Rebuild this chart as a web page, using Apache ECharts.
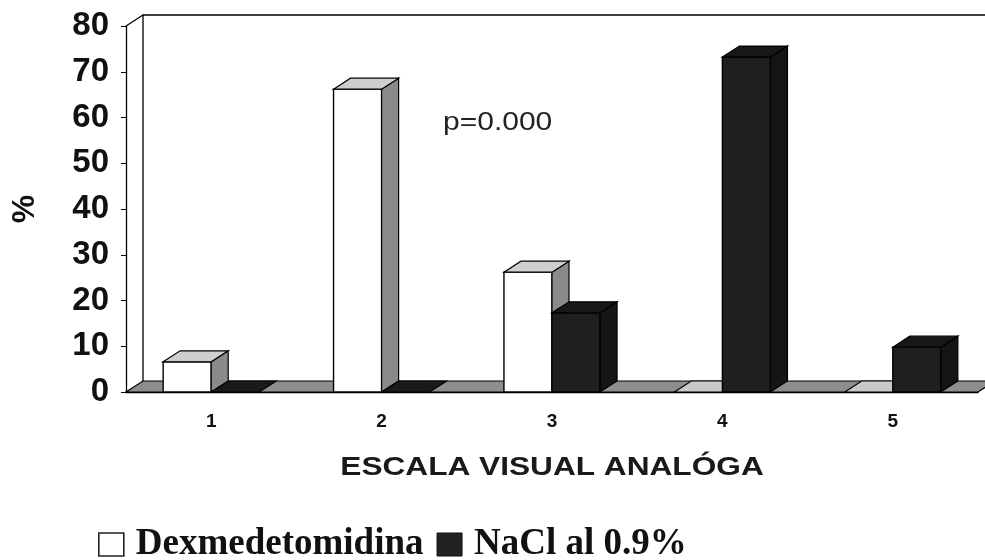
<!DOCTYPE html>
<html>
<head>
<meta charset="utf-8">
<script src="https://cdn.jsdelivr.net/npm/echarts@6/dist/echarts.min.js"></script>
<style>
  html, body { margin: 0; padding: 0; background: #fff; }
  #chart { width: 985px; height: 560px; }
</style>
</head>
<body>
<div id="chart"></div>
<script>
// Pain score distribution (visual analogue scale) per group, in percent
const categories = ['1', '2', '3', '4', '5'];
const dexValues = [6.6, 66.2, 26.2, 0, 0];
const naclValues = [0, 0, 17.3, 73.2, 9.8];
const seriesNames = ['Dexmedetomidina', 'NaCl al 0.9%'];
const yMin = 0, yMax = 80, yStep = 10;

// pseudo-3D depth of the plot box and bars
const DX = 17, DY = -11;
const BAR_RATIO = 0.282;

const chart = echarts.init(document.getElementById('chart'), null, { renderer: 'canvas' });

function poly(points, fill, lw) {
  return { type: 'polygon', shape: { points: points },
    style: { fill: fill, stroke: '#000', lineWidth: lw || 1 } };
}

// back wall, left edge and floor of the box
function renderFrame(params, api) {
  const band = api.size([1, 0])[0];
  const left = api.coord([0, yMin])[0] - band / 2;
  const right = api.coord([categories.length - 1, yMin])[0] + band / 2;
  const y0 = api.coord([0, yMin])[1];
  const yT = api.coord([0, yMax])[1];
  return {
    type: 'group',
    children: [
      { type: 'polyline', shape: { points: [[left + DX, y0 + DY], [left + DX, yT + DY], [right + DX + 40, yT + DY]] },
        style: { stroke: '#000', lineWidth: 1.3, fill: null } },
      { type: 'line', shape: { x1: left, y1: yT, x2: left + DX, y2: yT + DY },
        style: { stroke: '#000', lineWidth: 1.3 } },
      poly([[left, y0], [right, y0], [right + DX, y0 + DY], [left + DX, y0 + DY]], '#8e8e8e', 1.2)
    ]
  };
}

function barRenderer(slot, faces) {
  return function (params, api) {
    const idx = api.value(0);
    const val = api.value(1);
    const base = api.coord([idx, yMin]);
    const top = api.coord([idx, val]);
    const band = api.size([1, 0])[0];
    const w = band * BAR_RATIO;
    const x0 = base[0] + (slot === 0 ? -w : 0);
    const x1 = x0 + w;
    const yb = base[1], yt = top[1];
    const kids = [];
    if (yb - yt > 0.5) {
      kids.push({ type: 'rect', shape: { x: x0, y: yt, width: w, height: yb - yt },
        style: { fill: faces.front, stroke: '#000', lineWidth: 1.4 } });
      kids.push(poly([[x1, yt], [x1 + DX, yt + DY], [x1 + DX, yb + DY], [x1, yb]], faces.side, 1.2));
      kids.push(poly([[x0, yt], [x0 + DX, yt + DY], [x1 + DX, yt + DY], [x1, yt]], faces.top, 1.2));
    } else {
      kids.push(poly([[x0, yb], [x0 + DX, yb + DY], [x1 + DX, yb + DY], [x1, yb]], faces.zero, 1.2));
    }
    return { type: 'group', children: kids };
  };
}

const toData = arr => arr.map((v, i) => [i, v]);

const option = {
  backgroundColor: '#fff',
  animation: false,
  grid: { left: 126, right: 7, top: 26, bottom: 168 },
  xAxis: {
    type: 'category',
    data: categories,
    boundaryGap: true,
    axisLine: { lineStyle: { color: '#000', width: 1.3 } },
    axisTick: { lineStyle: { color: '#000' }, length: 6 },
    axisLabel: { color: '#111', fontFamily: 'Liberation Sans, Arial', fontWeight: 'bold', fontSize: 19, margin: 20 },
    splitLine: { show: false }
  },
  yAxis: {
    type: 'value',
    min: yMin, max: yMax, interval: yStep,
    name: '%',
    nameLocation: 'middle',
    nameRotate: 90,
    nameGap: 85,
    nameTextStyle: { color: '#111', fontFamily: 'Liberation Sans, Arial', fontSize: 32, fontWeight: 'bold' },
    axisLine: { show: true, lineStyle: { color: '#000', width: 1.3 } },
    axisTick: { show: true, lineStyle: { color: '#000' }, length: 5 },
    axisLabel: { color: '#111', fontFamily: 'Liberation Sans, Arial', fontWeight: 'bold', fontSize: 33, margin: 17 },
    splitLine: { show: false }
  },
  legend: {
    left: 98, top: 526, padding: 0,
    itemWidth: 25, itemHeight: 23, itemGap: 13,
    icon: 'rect',
    selectedMode: false,
    textStyle: { color: '#111', fontFamily: 'Liberation Serif, Times New Roman', fontWeight: 'bold', fontSize: 37, padding: [0, 0, 0, 7] },
    data: [
      { name: seriesNames[0], itemStyle: { color: '#fff', borderColor: '#222', borderWidth: 1.6 } },
      { name: seriesNames[1], itemStyle: { color: '#222', borderColor: '#111', borderWidth: 1 } }
    ]
  },
  graphic: [
    { type: 'text', x: 443, y: 123, scaleX: 1.2,
      style: { text: 'p=0.000', font: '25px "Liberation Sans", Arial', fill: '#222', textAlign: 'left', textVerticalAlign: 'middle' } },
    { type: 'text', x: 552, y: 468, scaleX: 1.265,
      style: { text: 'ESCALA VISUAL ANALÓGA', font: 'bold 25px "Liberation Sans", Arial', fill: '#1a1a1a', textAlign: 'center', textVerticalAlign: 'middle' } }
  ],
  series: [
    { type: 'custom', name: '_frame', z: 1, silent: true, renderItem: renderFrame, data: [[0, 0]] },
    { type: 'custom', name: seriesNames[0], z: 2,
      itemStyle: { color: '#fff', borderColor: '#222' },
      renderItem: barRenderer(0, { front: '#ffffff', top: '#cfcfcf', side: '#8a8a8a', zero: '#c9c9c9' }),
      data: toData(dexValues) },
    { type: 'custom', name: seriesNames[1], z: 3,
      itemStyle: { color: '#222' },
      renderItem: barRenderer(1, { front: '#1f1f1f', top: '#171717', side: '#151515', zero: '#1a1a1a' }),
      data: toData(naclValues) }
  ]
};

chart.setOption(option);
</script>
</body>
</html>
